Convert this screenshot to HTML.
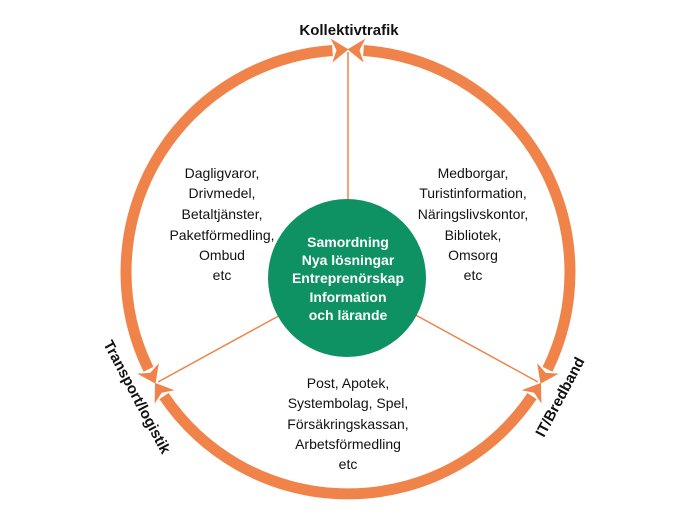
<!DOCTYPE html>
<html><head><meta charset="utf-8"><style>
html,body{margin:0;padding:0;background:#fff;}
svg{display:block;}
text{font-family:"Liberation Sans","DejaVu Sans",sans-serif;}
</style></head><body>
<svg width="699" height="524" viewBox="0 0 699 524" xmlns="http://www.w3.org/2000/svg">
<defs>
<marker id="ah" markerUnits="userSpaceOnUse" markerWidth="30" markerHeight="30" viewBox="-2 -15 24 30" refX="0" refY="0" orient="auto-start-reverse">
<path d="M-1,-12 L16,0 L-1,12 L4,0 Z" fill="#F0834A"/>
</marker>
</defs>
<g stroke="#F0834A" stroke-width="1.5">
<line x1="348" y1="272" x2="348" y2="52"/>
<line x1="348" y1="278" x2="158" y2="382"/>
<line x1="348" y1="278" x2="538" y2="382"/>
</g>
<g fill="none" stroke="#F0834A" stroke-width="11" marker-start="url(#ah)" marker-end="url(#ah)">
<path d="M363.5,50.5 A222,222 0 0 1 547.5,369.3"/>
<path d="M532,396.1 A222,222 0 0 1 164,396.1"/>
<path d="M148.5,369.3 A222,222 0 0 1 332.5,50.5"/>
</g>
<circle cx="347" cy="278" r="79" fill="#0E9163"/>
<g fill="#fff" font-weight="bold" font-size="14" text-anchor="middle">
<text x="348" y="247">Samordning</text>
<text x="348" y="265">Nya lösningar</text>
<text x="348" y="283">Entreprenörskap</text>
<text x="348" y="302">Information</text>
<text x="348" y="320">och lärande</text>
</g>
<g fill="#111" font-size="14" text-anchor="middle">
<text x="222" y="178">Dagligvaror,</text>
<text x="222" y="198">Drivmedel,</text>
<text x="222" y="219">Betaltjänster,</text>
<text x="222" y="240">Paketförmedling,</text>
<text x="222" y="260">Ombud</text>
<text x="222" y="280">etc</text>
<text x="473" y="178">Medborgar,</text>
<text x="473" y="198">Turistinformation,</text>
<text x="473" y="219">Näringslivskontor,</text>
<text x="473" y="240">Bibliotek,</text>
<text x="473" y="260">Omsorg</text>
<text x="473" y="280">etc</text>
<text x="348" y="388">Post, Apotek,</text>
<text x="348" y="408">Systembolag, Spel,</text>
<text x="348" y="429">Försäkringskassan,</text>
<text x="348" y="449">Arbetsförmedling</text>
<text x="348" y="469">etc</text>
</g>
<g fill="#111" font-size="15" font-weight="bold" text-anchor="middle">
<text x="349" y="35">Kollektivtrafik</text>
<text transform="translate(137,397) rotate(62)" y="5">Transport/logistik</text>
<text transform="translate(560,397) rotate(-62)" y="5">IT/Bredband</text>
</g>
</svg>
</body></html>
